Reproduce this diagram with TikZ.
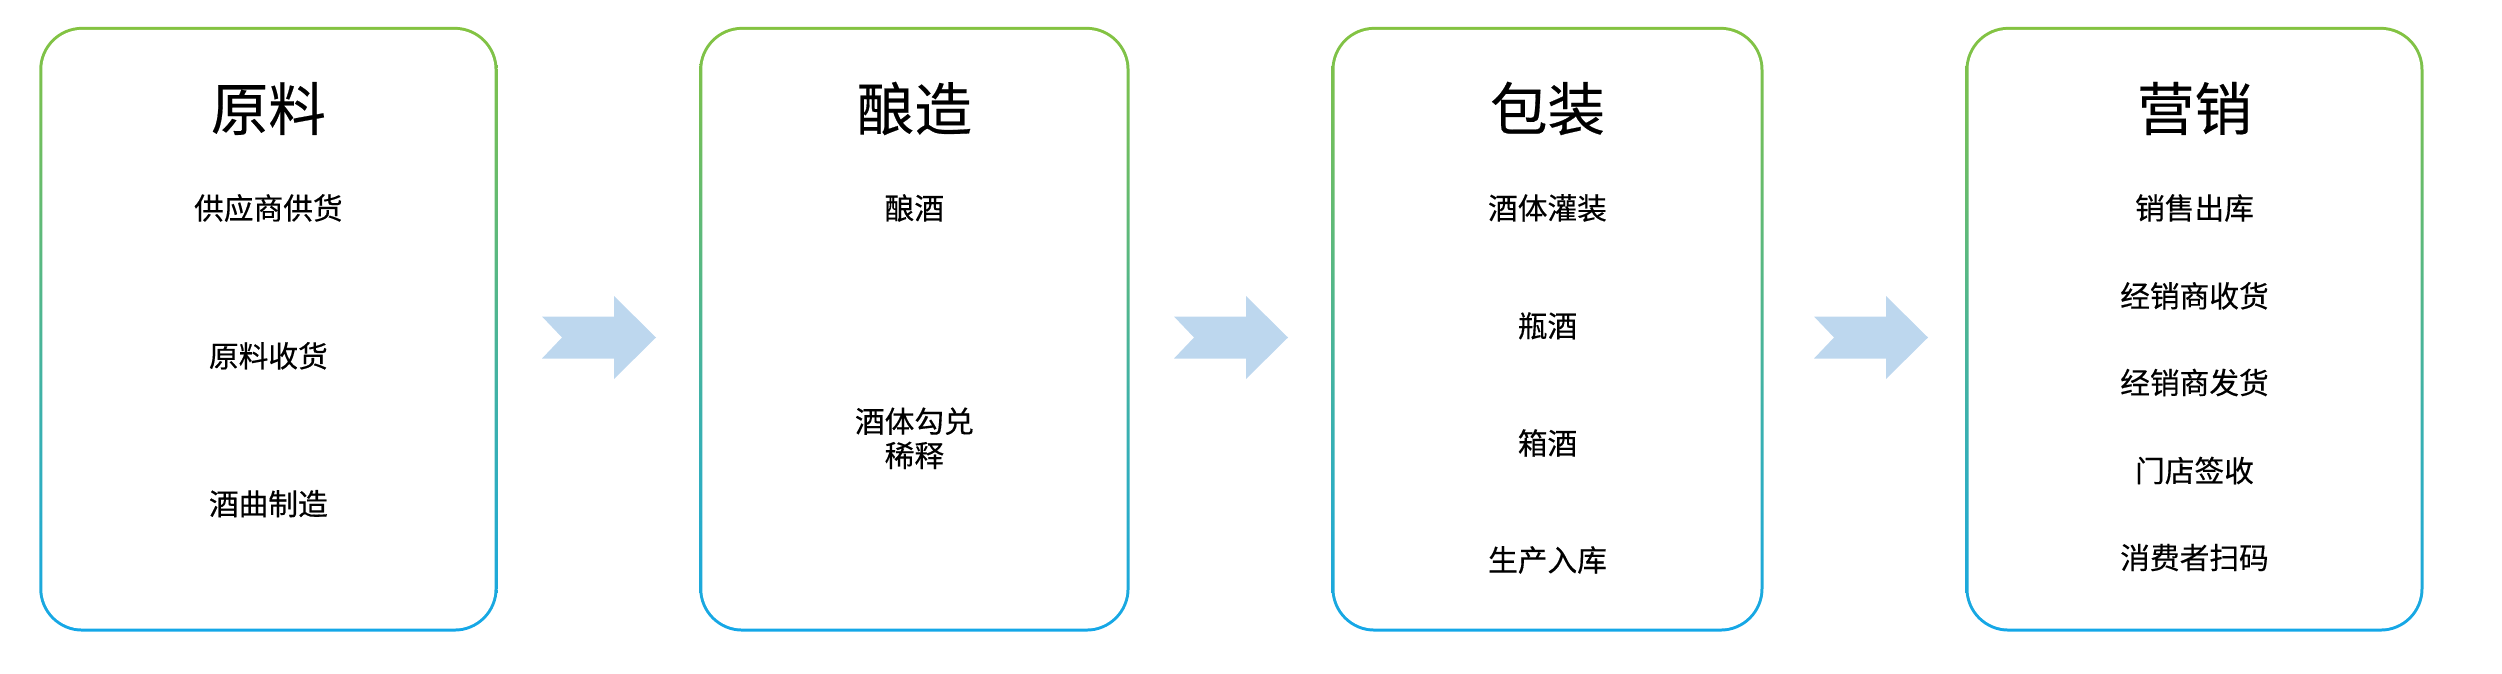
\documentclass[tikz,border=0pt]{standalone}
\usepackage{fontspec}
\setmainfont{Noto Sans CJK SC}
\newfontfamily\medcjk[FakeBold=0.35]{Noto Sans CJK SC}
\definecolor{ringtop}{RGB}{132,195,65}
\definecolor{ringbot}{RGB}{20,167,232}
\definecolor{arrowblue}{RGB}{189,215,238}
\tikzset{
  ringouter/.style={rectangle, inner sep=0pt, draw=none, rounded corners=21.5pt,
    top color=ringtop, bottom color=ringbot, minimum height=302.35pt},
  ringinner/.style={rectangle, inner sep=0pt, draw=none, fill=white, rounded corners=20pt,
    minimum height=299.35pt},
  titletext/.style={inner sep=0pt, font=\medcjk\fontsize{28.75}{34}\selectfont, text=black},
  itemtext/.style={inner sep=0pt, font=\medcjk\fontsize{14.85}{18.6}\selectfont, text=black, align=center},
  blockarrow/.style={fill=arrowblue, draw=none}
}
\begin{document}
\begin{tikzpicture}[x=0.5pt,y=-0.5pt]
\useasboundingbox (0,0) rectangle (2502,674);
% boxes
\node[ringouter, minimum width=229.15pt] (b1) at (268.4,329.2) {};
\node[ringinner, minimum width=226.15pt] (b1in) at (b1) {};
\node[ringouter, minimum width=215.15pt] (b2) at (914.4,329.2) {};
\node[ringinner, minimum width=212.15pt] (b2in) at (b2) {};
\node[ringouter, minimum width=216pt] (b3) at (1547.5,329.2) {};
\node[ringinner, minimum width=213pt] (b3in) at (b3) {};
\node[ringouter, minimum width=229pt] (b4) at (2194.5,329.2) {};
\node[ringinner, minimum width=226pt] (b4in) at (b4) {};
% titles
\node[titletext] (t1) at (268.4,108.5) {原料};
\node[titletext] (t2) at (914.4,108.5) {酿造};
\node[titletext] (t3) at (1547.5,108.5) {包装};
\node[titletext] (t4) at (2194.5,108.5) {营销};
% box 1 items
\node[itemtext] (i11) at (268.4,208) {供应商供货};
\node[itemtext] (i12) at (268.4,355.8) {原料收货};
\node[itemtext] (i13) at (268.4,503.7) {酒曲制造};
% box 2 items
\node[itemtext] (i21) at (914.4,208) {酿酒};
\node[itemtext] (i22) at (914.4,438.3) {酒体勾兑\\[-1.5pt]稀释};
% box 3 items
\node[itemtext] (i31) at (1547.5,208) {酒体灌装};
\node[itemtext] (i32) at (1547.5,325.8) {瓶酒};
\node[itemtext] (i33) at (1547.5,443) {箱酒};
\node[itemtext] (i34) at (1547.5,560) {生产入库};
% box 4 items
\node[itemtext] (i41) at (2194.5,208) {销售出库};
\node[itemtext] (i42) at (2194.5,295.8) {经销商收货};
\node[itemtext] (i43) at (2194.5,382.5) {经销商发货};
\node[itemtext] (i44) at (2194.5,470.5) {门店签收};
\node[itemtext] (i45) at (2194.5,557.5) {消费者扫码};
% arrows
\coordinate (a1) at (599,337.5);
\coordinate (a2) at (1231,337.5);
\coordinate (a3) at (1871,337.5);
\foreach \a in {a1,a2,a3}{
  \fill[blockarrow] ([shift={(-57,-21)}]\a) -- ([shift={(15,-21)}]\a) -- ([shift={(15,-41.5)}]\a)
    -- ([shift={(57,0)}]\a) -- ([shift={(15,41.5)}]\a) -- ([shift={(15,21)}]\a)
    -- ([shift={(-57,21)}]\a) -- ([shift={(-37,0)}]\a) -- cycle;
}
\end{tikzpicture}
\end{document}
